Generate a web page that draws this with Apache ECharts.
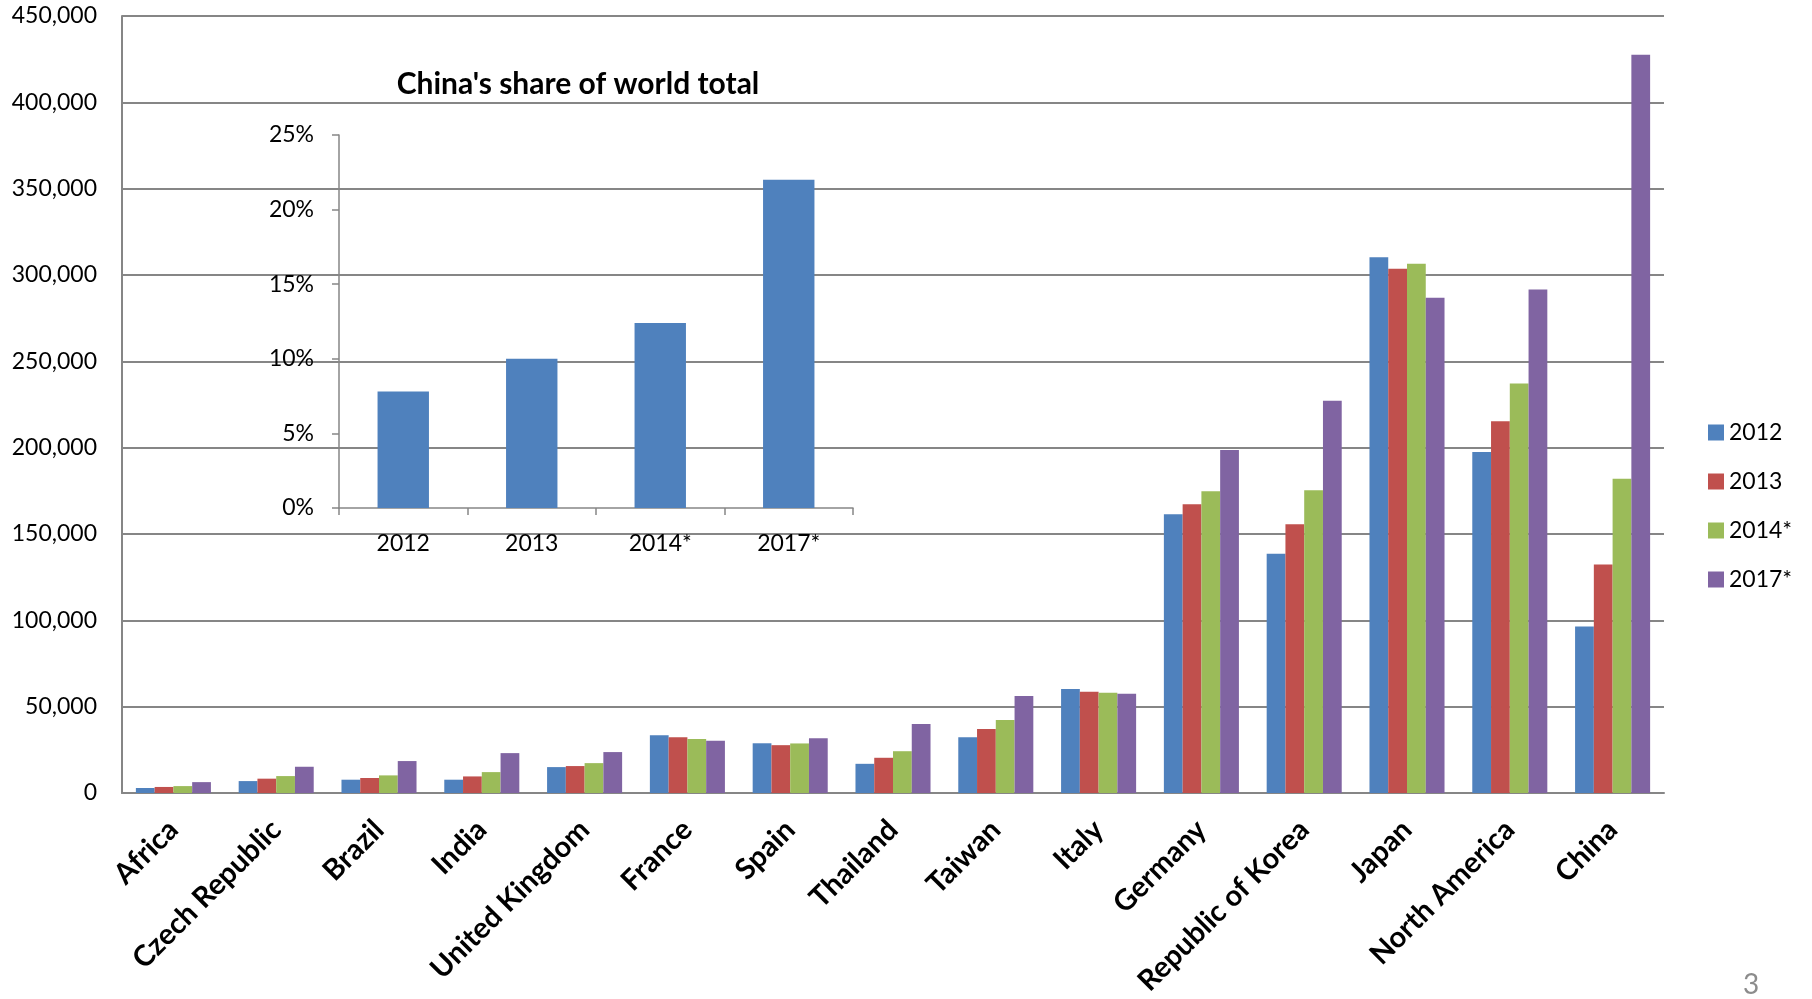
<!DOCTYPE html>
<html><head><meta charset="utf-8">
<script src="https://cdn.jsdelivr.net/npm/echarts@6/dist/echarts.min.js"></script>
<style>html,body{margin:0;padding:0;background:#fff}#c{width:1812px;height:999px}</style>
</head><body><div id="c"></div>
<script>
const categories = ['Africa','Czech Republic','Brazil','India','United Kingdom','France','Spain','Thailand','Taiwan','Italy','Germany','Republic of Korea','Japan','North America','China'];
const seriesNames = ['2012','2013','2014*','2017*'];
const v2012 = [2900, 6900, 7700, 7700, 15000, 33500, 28800, 16900, 32300, 60200, 161400, 138500, 310300, 197500, 96500];
const v2013 = [3500, 8300, 8700, 9600, 15600, 32300, 27700, 20400, 37100, 58700, 167300, 155600, 303600, 215300, 132300];
const v2014 = [4000, 9800, 10200, 12100, 17300, 31300, 28700, 24200, 42300, 58100, 174700, 175300, 306500, 237100, 182000];
const v2017 = [6300, 15200, 18500, 23100, 23700, 30200, 31700, 40000, 56200, 57500, 198700, 227100, 286800, 291600, 427600];
const insetCategories = ['2012','2013','2014*','2017*'];
const chinaShare = [7.8, 10.0, 12.4, 22.0];
const yTicks = {min: 0, max: 450000, interval: 50000};
const insetTicks = {min: 0, max: 25, interval: 5};
const colors = ['#4F81BD','#C0504D','#9BBB59','#8064A2'];
const FONT = 'Lato';

const chart = echarts.init(document.getElementById('c'), null, {renderer: 'canvas'});
const mainValues = [v2012, v2013, v2014, v2017];
const option = {
  animation: false,
  color: colors,
  textStyle: {fontFamily: FONT},
  grid: [
    {left: 122, right: 148, top: 16, bottom: 206},
    {left: 339, top: 135, width: 514, height: 373}
  ],
  legend: {
    orient: 'vertical', left: 1703, top: 416,
    itemWidth: 16, itemHeight: 16, itemGap: 26,
    icon: 'rect',
    textStyle: {fontFamily: FONT, fontSize: 23, color: '#000'},
    data: seriesNames
  },
  xAxis: [
    {type: 'category', gridIndex: 0, data: categories,
     axisLine: {lineStyle: {color: '#868686', width: 2}},
     axisTick: {show: false},
     axisLabel: {rotate: 45, interval: 0, margin: 32, fontFamily: FONT, fontSize: 29, fontWeight: 'bold', color: '#000'}},
    {type: 'category', gridIndex: 1, data: insetCategories,
     axisLine: {lineStyle: {color: '#868686', width: 1.5}},
     axisTick: {show: true, length: 7, lineStyle: {color: '#868686', width: 1.5}},
     axisLabel: {margin: 24, fontFamily: FONT, fontSize: 23, color: '#000'}}
  ],
  yAxis: [
    {type: 'value', gridIndex: 0, min: yTicks.min, max: yTicks.max, interval: yTicks.interval,
     axisLine: {show: true, lineStyle: {color: '#868686', width: 2}},
     axisTick: {show: false},
     splitLine: {lineStyle: {color: '#868686', width: 2}},
     axisLabel: {margin: 25, fontFamily: FONT, fontSize: 23, color: '#000',
       formatter: v => v.toLocaleString('en-US')}},
    {type: 'value', gridIndex: 1, min: insetTicks.min, max: insetTicks.max, interval: insetTicks.interval,
     axisLine: {show: true, lineStyle: {color: '#868686', width: 1.5}},
     axisTick: {show: true, length: 7, lineStyle: {color: '#868686', width: 1.5}},
     splitLine: {show: false},
     axisLabel: {margin: 25, fontFamily: FONT, fontSize: 23, color: '#000', formatter: v => v + '%'}}
  ],
  series: [
    ...seriesNames.map((n, i) => ({
      name: n, type: 'bar', xAxisIndex: 0, yAxisIndex: 0,
      data: mainValues[i], barGap: '0%', barCategoryGap: '27%',
      itemStyle: {color: colors[i]}
    })),
    {name: 'China share', type: 'bar', xAxisIndex: 1, yAxisIndex: 1,
     data: chinaShare, barCategoryGap: '60%', itemStyle: {color: '#4F81BD'}}
  ],
  graphic: [
    {type: 'text', x: 578, y: 84, style: {text: "China's share of world total", fontFamily: FONT, fontSize: 30, fontWeight: 'bold', fill: '#000', textAlign: 'center', textVerticalAlign: 'middle'}},
    {type: 'text', x: 1751, y: 985, style: {text: '3', fontFamily: FONT, fontSize: 28, fill: '#8c8c8c', textAlign: 'center', textVerticalAlign: 'middle'}}
  ]
};
chart.setOption(option);
</script></body></html>
